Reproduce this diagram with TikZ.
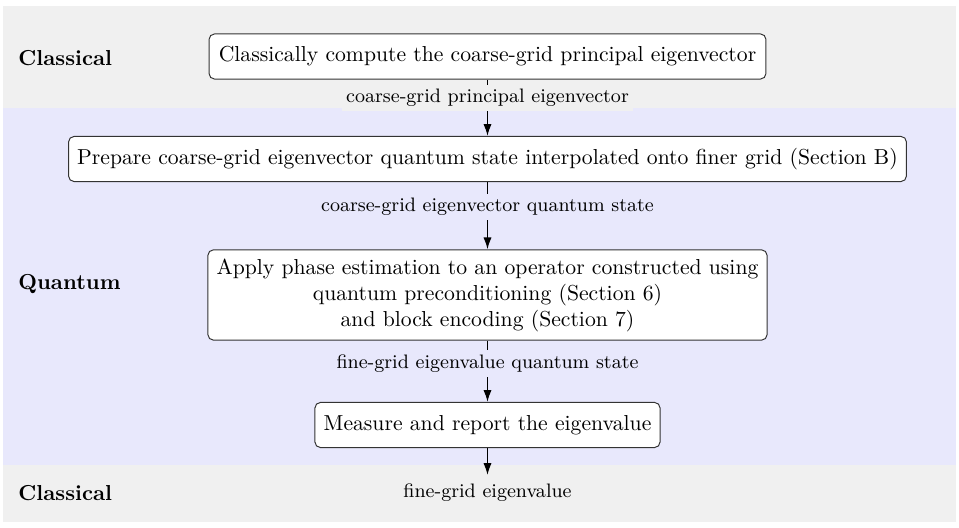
\documentclass[tikz,border=0pt]{standalone}
\usetikzlibrary{arrows.meta}
\definecolor{bandgray}{RGB}{240,240,240}
\definecolor{bandblue}{RGB}{232,232,252}
\begin{document}
\begin{tikzpicture}[x=0.4615pt,y=-0.4615pt,
  box/.style={draw=black!80,line width=0.45pt,fill=white,rounded corners=2.5pt,
    inner xsep=4pt,inner ysep=4pt,minimum height=20.8pt,align=center,font=\normalsize},
  lab/.style={font=\small,inner sep=2pt},
  arr/.style={-{Latex[length=5.5pt,width=3.8pt]},line width=0.7pt},
  band/.style={font=\bfseries,anchor=west,inner sep=0pt}]
\useasboundingbox (0,0) rectangle (959,528);
\fill[bandgray] (3,6) rectangle (956,108);
\fill[bandblue] (3,108) rectangle (956,465);
\fill[bandgray] (3,465) rectangle (956,522);
\node[band] (c1) at (18,58) {Classical};
\node[band] (q) at (18,284) {Quantum};
\node[band] (c2) at (18,493) {Classical};
\node[box,minimum width=257pt] (b1) at (487.5,56.5) {Classically compute the coarse-grid principal eigenvector};
\node[box] (b2) at (487.5,159) {Prepare coarse-grid eigenvector quantum state interpolated onto finer grid (Section B)};
\node[box,minimum width=257pt] (b3) at (487.5,295) {Apply phase estimation to an operator constructed using\\ quantum preconditioning (Section 6)\\ and block encoding (Section 7)};
\node[box] (b4) at (487.5,425) {Measure and report the eigenvalue};
\node[lab,inner sep=4pt] (out) at (487.5,493) {fine-grid eigenvalue};
\draw[arr] (b1) -- node[lab,fill=bandgray,pos=0.33] {coarse-grid principal eigenvector} (b2);
\draw[arr] (b2) -- node[lab,fill=bandblue,pos=0.37] {coarse-grid eigenvector quantum state} (b3);
\draw[arr] (b3) -- node[lab,fill=bandblue,pos=0.37] {fine-grid eigenvalue quantum state} (b4);
\draw[arr] (b4) -- (out);
\end{tikzpicture}
\end{document}
